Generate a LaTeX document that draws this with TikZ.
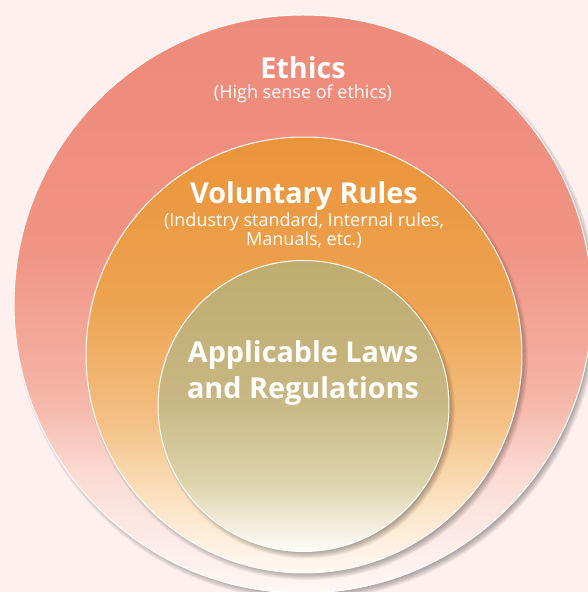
\documentclass[tikz,border=0pt]{standalone}
\usepackage{fontspec}
\setsansfont{Open Sans}
\usetikzlibrary{calc}

\definecolor{bgpink}{HTML}{FDF0EE}
% outer ring colours
\definecolor{ethA}{HTML}{EE8A7A}
\definecolor{ethB}{HTML}{F09383}
\definecolor{ethC}{HTML}{F5B5A7}
\definecolor{ethD}{HTML}{FBDCD5}
\definecolor{ethE}{HTML}{FEF8F6}
% middle ring colours
\definecolor{volA}{HTML}{EA943A}
\definecolor{volB}{HTML}{EDA350}
\definecolor{volC}{HTML}{F3C084}
\definecolor{volD}{HTML}{FBE2C2}
\definecolor{volE}{HTML}{FFFAF3}
% inner disc colours
\definecolor{lawA}{HTML}{BFAC70}
\definecolor{lawB}{HTML}{C8B783}
\definecolor{lawC}{HTML}{DCD3AB}
\definecolor{lawD}{HTML}{FDFDF8}

\pgfdeclareverticalshading{ethicsshade}{100bp}{color(0bp)=(ethE); color(25bp)=(ethE);
  color(35bp)=(ethD); color(42bp)=(ethC); color(55bp)=(ethB); color(75bp)=(ethA); color(100bp)=(ethA)}
\pgfdeclareverticalshading{rulesshade}{100bp}{color(0bp)=(volE); color(25bp)=(volE);
  color(33.4bp)=(volD); color(42.5bp)=(volC); color(56.3bp)=(volB); color(75bp)=(volA); color(100bp)=(volA)}
\pgfdeclareverticalshading{lawsshade}{100bp}{color(0bp)=(lawD); color(25bp)=(lawD);
  color(37.3bp)=(lawC); color(51bp)=(lawB); color(75bp)=(lawA); color(100bp)=(lawA)}

\tikzset{
  ring/.style={circle,draw=white,line width=1pt,inner sep=0pt},
  title/.style={anchor=base,text=white,font=\sffamily\bfseries\fontsize{28.8}{32}\selectfont},
  subtitle/.style={anchor=base,text=white,font=\sffamily\fontsize{18}{20}\selectfont},
}

\begin{document}
\begin{tikzpicture}[x=1pt,y=1pt]
  \fill[bgpink] (0,0) rectangle (588,592);
  \useasboundingbox (0,0) rectangle (588,592);
  \clip (0,0) rectangle (588,592);

  % rings with soft shadow, outer first
  \foreach \n/\cx/\cy/\r/\sh in {ethics/303/288/289/ethicsshade,rules/304/237/218/rulesshade,laws/303.5/186/145.5/lawsshade}{
    \foreach \k in {1,...,8}
      \fill[black,opacity=0.045] (\cx+3,\cy-4) circle ({\r+4-\k*0.9});
    \node[ring,minimum size=2*\r pt,shading=\sh] (\n) at (\cx,\cy) {};
  }

  \node[title] (ethicsT) at (303,513) {Ethics};
  \node[subtitle] (ethicsS) at (303,493) {(High sense of ethics)};

  \node[title] (rulesT) at (304,388) {Voluntary Rules};
  \node[subtitle] (rulesS1) at (304,365) {(Industry standard, Internal rules,};
  \node[subtitle] (rulesS2) at (304,346) {Manuals, etc.)};

  \node[title] (lawsT1) at (303,229) {Applicable Laws};
  \node[title] (lawsT2) at (303,193) {and Regulations};
\end{tikzpicture}
\end{document}
